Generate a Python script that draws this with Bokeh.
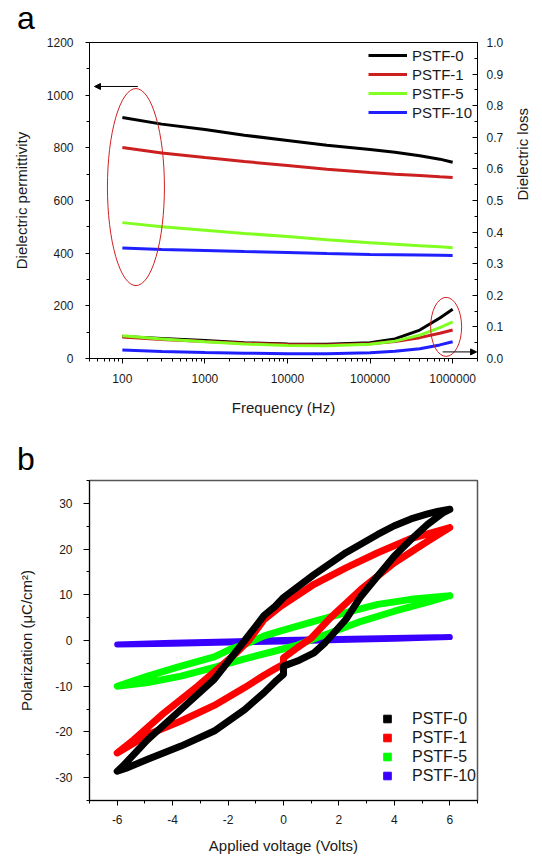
import math
from bokeh.plotting import figure
from bokeh.layouts import column
from bokeh.models import (Range1d, LinearAxis, FixedTicker, SingleIntervalTicker,
                          CustomJSTickFormatter, PrintfTickFormatter, Legend, LegendItem,
                          Arrow, NormalHead, Div)
from bokeh.embed import file_html
from bokeh.resources import INLINE

FONT = "Liberation Sans"
TXT = "#1a1a1a"

# ---------------- panel a data ----------------
freq = [100, 300, 1000, 3000, 10000, 30000, 100000, 200000, 400000, 700000, 1000000]
series_names = ["PSTF-0", "PSTF-1", "PSTF-5", "PSTF-10"]
eps0 = [915, 890, 870, 848, 828, 810, 794, 783, 770, 757, 745]
eps1 = [801, 780, 763, 748, 733, 719, 706, 700, 695, 690, 687]
eps5 = [516, 500, 487, 475, 463, 451, 440, 434, 428, 424, 421]
eps10 = [420, 414, 410, 406, 403, 399, 395, 394, 393, 392, 391]
loss0 = [0.070, 0.063, 0.057, 0.050, 0.046, 0.045, 0.050, 0.062, 0.090, 0.128, 0.156]
loss1 = [0.068, 0.060, 0.054, 0.048, 0.044, 0.043, 0.047, 0.054, 0.066, 0.080, 0.090]
loss5 = [0.072, 0.062, 0.053, 0.046, 0.041, 0.040, 0.045, 0.055, 0.074, 0.098, 0.116]
loss10 = [0.027, 0.022, 0.019, 0.017, 0.015, 0.015, 0.018, 0.023, 0.031, 0.043, 0.053]
colors_a = ["#000000", "#cc2020", "#80ff20", "#2020ff"]
freq_ticks = [100, 1000, 10000, 100000, 1000000]

# ---------------- panel b data ----------------
black_v = [6.0, 5.6, 5.2, 4.6, 4.0, 3.4, 2.25, 1.1, 0.0, -0.3, -0.7, -1.4, -2.5, -3.7, -4.9, -5.8, -6.0,
           -5.7, -4.9, -3.7, -2.5, -1.4, -0.7, -0.3, 0.0, 0.0, 0.5, 1.1, 1.5, 2.25, 2.8, 3.4,
           4.0, 4.6, 5.2, 5.75, 6.0]
black_p = [28.7, 28.3, 27.7, 26.6, 25.1, 23.2, 19.2, 14.4, 9.4, 7.5, 5.5, 0.0, -8.5, -15.1, -21.7, -27.5, -28.6,
           -28.0, -26.0, -23.1, -19.8, -15.1, -11.4, -9.0, -7.4, -5.6, -4.5, -2.7, -0.5, 4.6, 9.7, 14.1,
           18.5, 22.1, 25.4, 27.9, 28.7]
red_v = [6.0, 4.6, 3.4, 2.25, 1.1, -0.1, -0.7, -1.25, -1.7, -3.1, -4.3, -5.4, -6.0,
         -4.9, -3.7, -2.5, -1.4, -0.7, -0.3, 0.0, 0.0, 0.45, 1.0, 1.7, 2.8, 4.0, 5.2, 6.0]
red_p = [24.7, 22.3, 19.2, 15.9, 12.3, 7.5, 4.6, 0.0, -2.7, -10.0, -15.8, -21.7, -24.6,
         -20.6, -17.6, -14.2, -10.3, -7.6, -6.2, -5.2, -3.8, -1.8, 0.5, 5.0, 11.2, 17.0, 21.7, 24.7]
green_v = [6.0, 4.6, 3.4, 2.25, 1.1, -0.1, -0.7, -1.25, -1.95, -2.5, -3.7, -4.9, -6.0,
           -4.9, -3.7, -2.5, -1.4, -0.3, 0.5, 1.7, 2.8, 4.0, 5.2, 6.0]
green_p = [9.8, 9.0, 7.9, 6.1, 4.2, 2.1, 1.0, -0.5, -2.0, -3.6, -5.6, -7.8, -10.0,
           -9.2, -7.8, -5.9, -4.0, -2.3, -1.0, 1.7, 4.2, 6.4, 8.4, 9.8]
blue_v = [6, 4, 2, 0, -2, -4, -6, -4, -2, 0, 2, 4, 6]
blue_p = [0.75, 0.55, 0.35, 0.1, -0.2, -0.5, -0.85, -0.7, -0.45, -0.2, 0.1, 0.4, 0.75]
colors_b = ["#000000", "#ff0000", "#00ff00", "#3a00ff"]


def style_axis(ax, tick_out=5, tick_in=0, minor_out=3, minor_in=0, standoff=8, label_standoff=10):
    ax.axis_line_color = "black"
    ax.axis_line_width = 1
    ax.major_tick_line_color = "black"
    ax.minor_tick_line_color = "black"
    ax.major_tick_out = tick_out
    ax.major_tick_in = tick_in
    ax.minor_tick_out = minor_out
    ax.minor_tick_in = minor_in
    ax.major_label_text_font = FONT
    ax.major_label_text_font_size = "12px"
    ax.major_label_text_color = TXT
    ax.major_label_standoff = standoff
    ax.axis_label_text_font = FONT
    ax.axis_label_text_font_size = "15px"
    ax.axis_label_text_font_style = "normal"
    ax.axis_label_text_color = TXT
    ax.axis_label_standoff = label_standoff


def panel_letter(letter, height, pad_top):
    html = ('<div style="font-family: \'Liberation Sans\', Arial, sans-serif; font-size: 32px; '
            'line-height: 36px; padding-top: %dpx; padding-left: 17px; color: #000; margin: 0;">%s</div>'
            % (pad_top, letter))
    return Div(text=html, width=542, height=height, margin=0)


# ================= Panel a =================
p1 = figure(width=542, height=391, x_axis_type="log",
            x_range=Range1d(40, 2e6), y_range=Range1d(0, 1200),
            output_backend="svg", toolbar_location=None, margin=0,
            min_border_left=89, min_border_right=63, min_border_top=6, min_border_bottom=69)
p1.grid.visible = False
p1.outline_line_color = "black"
p1.outline_line_width = 1

minor_f = [m * 10 ** e for e in range(1, 7) for m in range(2, 10) if 40 <= m * 10 ** e <= 2e6]
p1.xaxis.ticker = FixedTicker(ticks=freq_ticks, minor_ticks=minor_f)
p1.xaxis.formatter = CustomJSTickFormatter(code="return Math.round(tick).toString();")
p1.xaxis.axis_label = "Frequency (Hz)"
style_axis(p1.xaxis[0], tick_out=5, minor_out=3, standoff=10, label_standoff=13)

p1.yaxis.ticker = SingleIntervalTicker(interval=200, num_minor_ticks=2)
p1.yaxis.axis_label = "Dielectric permittivity"
style_axis(p1.yaxis[0], tick_out=4, minor_out=3, standoff=12, label_standoff=14)

p1.extra_y_ranges = {"loss": Range1d(0, 1)}
ax_r = LinearAxis(y_range_name="loss", axis_label="Dielectric loss",
                  ticker=SingleIntervalTicker(interval=0.1, num_minor_ticks=2),
                  formatter=PrintfTickFormatter(format="%.1f"))
style_axis(ax_r, tick_out=0, tick_in=5, minor_out=0, minor_in=3, standoff=9, label_standoff=16)
try:
    ax_r.axis_label_orientation = math.pi / 2
except Exception:
    pass
p1.add_layout(ax_r, "right")

eps_all = [eps0, eps1, eps5, eps10]
loss_all = [loss0, loss1, loss5, loss10]
items = []
for name, c, e, l in zip(series_names, colors_a, eps_all, loss_all):
    r = p1.line(freq, e, line_color=c, line_width=3)
    p1.line(freq, l, line_color=c, line_width=3, y_range_name="loss")
    items.append(LegendItem(label=name, renderers=[r]))

leg1 = Legend(items=items, location=(279, 237), border_line_color=None,
              background_fill_alpha=0, padding=0, margin=0, spacing=1,
              glyph_width=39, glyph_height=18, label_height=18, label_standoff=5,
              label_text_font=FONT, label_text_font_size="15px", label_text_color=TXT)
p1.add_layout(leg1)

# annotations: ellipses & arrows
p1.ellipse(x=[146], y=[651], width=57, height=197, width_units="screen", height_units="screen",
           fill_alpha=0, line_color="#d02020", line_width=1)
p1.ellipse(x=[8.34e5], y=[120], width=31, height=59, width_units="screen", height_units="screen",
           fill_alpha=0, line_color="#d02020", line_width=1)
p1.add_layout(Arrow(end=NormalHead(size=6, fill_color="black", line_color="black"),
                    x_start=154, y_start=1033, x_end=46, y_end=1033,
                    line_color="black", line_width=1))
p1.add_layout(Arrow(end=NormalHead(size=6, fill_color="black", line_color="black"),
                    x_start=7.57e5, y_start=25, x_end=1.95e6, y_end=25,
                    line_color="black", line_width=1))

# ================= Panel b =================
p2 = figure(width=542, height=381, x_range=Range1d(-7, 7), y_range=Range1d(-35, 35),
            output_backend="svg", toolbar_location=None, margin=0,
            min_border_left=89, min_border_right=53, min_border_top=3, min_border_bottom=58)
p2.grid.visible = False
p2.outline_line_color = "#555555"
p2.outline_line_width = 1.5

p2.xaxis.ticker = SingleIntervalTicker(interval=2, num_minor_ticks=2)
p2.xaxis.formatter = CustomJSTickFormatter(code="return tick.toFixed(0);")
p2.xaxis.axis_label = "Applied voltage (Volts)"
style_axis(p2.xaxis[0], tick_out=5, minor_out=3, standoff=9, label_standoff=10)
p2.yaxis.ticker = SingleIntervalTicker(interval=10, num_minor_ticks=2)
p2.yaxis.formatter = CustomJSTickFormatter(code="return tick.toFixed(0);")
p2.yaxis.axis_label = "Polarization (μC/cm²)"
style_axis(p2.yaxis[0], tick_out=6, minor_out=3, standoff=11, label_standoff=17)

loops = [(blue_v, blue_p, colors_b[3], 6), (green_v, green_p, colors_b[2], 7),
         (red_v, red_p, colors_b[1], 7), (black_v, black_p, colors_b[0], 7)]
for vv, pp, c, w in loops:
    p2.line(vv, pp, line_color=c, line_width=w, line_join="round", line_cap="round")

items2 = []
nan = float("nan")
for name, c in zip(series_names, colors_b):
    r = p2.scatter(x=[nan], y=[nan], marker="square", fill_color=c, line_color=c)
    items2.append(LegendItem(label=name, renderers=[r]))
leg2 = Legend(items=items2, location=(288, 15), border_line_color=None,
              background_fill_alpha=0, padding=0, margin=0, spacing=0,
              glyph_width=20, glyph_height=19, label_height=19, label_standoff=15,
              label_text_font=FONT, label_text_font_size="16px", label_text_color=TXT)
p2.add_layout(leg2)

div_a = panel_letter("a", 36, 0)
div_b = panel_letter("b", 50, 14)

layout = column(div_a, p1, div_b, p2, spacing=0, margin=0)
open("out.html", "w").write(file_html(layout, INLINE))
